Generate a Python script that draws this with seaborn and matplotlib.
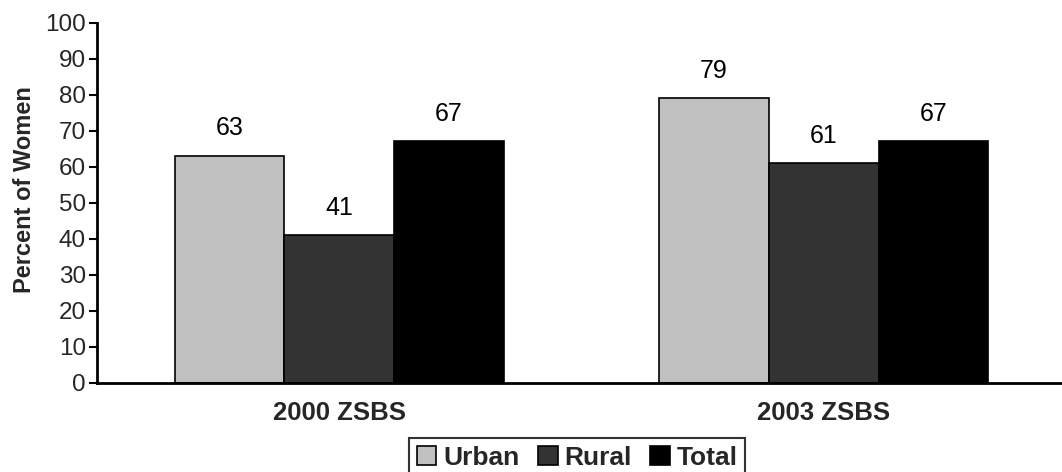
import matplotlib
matplotlib.use("Agg")
import matplotlib.pyplot as plt
import seaborn as sns
import pandas as pd
from matplotlib.patches import Patch

surveys = ["2000 ZSBS", "2003 ZSBS"]
areas = ["Urban", "Rural", "Total"]
urban = [63, 79]
rural = [41, 61]
total = [67, 67]
yticks = [0, 10, 20, 30, 40, 50, 60, 70, 80, 90, 100]
colors = ["#C0C0C0", "#333333", "#000000"]

rows = []
for area, vals in zip(areas, [urban, rural, total]):
    for s, v in zip(surveys, vals):
        rows.append({"survey": s, "area": area, "pct": v})
df = pd.DataFrame(rows)

sns.set_theme(style="white")
plt.rcParams["font.family"] = ["Liberation Sans", "DejaVu Sans"]

fig = plt.figure(figsize=(10.62, 4.72), dpi=100)
W, H = 1062, 472
ax = fig.add_axes([97 / W, (H - 382.5) / H, (1066 - 97) / W, (382.5 - 22.5) / H])

sns.barplot(data=df, x="survey", y="pct", hue="area", order=surveys, hue_order=areas,
            palette=colors, edgecolor="black", linewidth=1.2, width=0.68, gap=0,
            legend=False, ax=ax, err_kws={"linewidth": 0})

for cont in ax.containers:
    ax.bar_label(cont, labels=[f"{v:.0f}" for v in cont.datavalues], padding=11,
                 fontsize=18, color="black")

ax.set_xlim(-0.5, 1.5)
ax.set_ylim(0, 100)
ax.set_yticks(yticks)
ax.set_yticklabels([str(t) for t in yticks], fontsize=17.5)
ax.set_xticks([0, 1])
ax.set_xticklabels(surveys, fontsize=18.5, fontweight="bold")
ax.set_xticks([-0.5, 0.5, 1.5], minor=True)
ax.tick_params(axis="x", which="major", length=0, pad=13)
ax.tick_params(axis="x", which="minor", length=6, width=1.5, color="black", direction="out")
ax.tick_params(axis="y", length=6, width=1.5, color="black", direction="out", pad=2, left=True)
ax.set_xlabel("")
ax.set_ylabel("Percent of Women", fontsize=17, fontweight="bold")
ax.yaxis.set_label_coords(-61 / (1066 - 97), (382.5 - 190) / 360)

for side in ["top", "right"]:
    ax.spines[side].set_visible(False)
for side in ["left", "bottom"]:
    ax.spines[side].set_color("black")
    ax.spines[side].set_linewidth(2)
ax.grid(False)

handles = [Patch(facecolor=c, edgecolor="black", linewidth=1.2) for c in colors]
leg = fig.legend(handles, areas, loc="upper center", bbox_to_anchor=(577 / W, 1 - 438 / H),
                 ncol=3, frameon=True, fancybox=False, handlelength=0.75, handleheight=0.75,
                 handletextpad=0.25, columnspacing=0.7, borderpad=0.3, borderaxespad=0,
                 prop={"weight": "bold", "size": 19})
leg.get_frame().set_edgecolor("black")
leg.get_frame().set_linewidth(1.5)

fig.savefig("out.png", dpi=100)
